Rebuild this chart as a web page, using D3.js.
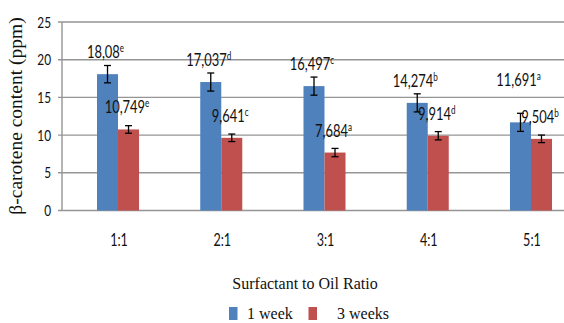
<!DOCTYPE html>
<html>
<head>
<meta charset="utf-8">
<script src="https://cdn.jsdelivr.net/npm/d3@7"></script>
<style>
  html, body { margin: 0; padding: 0; background: #fff; overflow: hidden; }
  svg { display: block; }
  .serif { font-family: "Liberation Serif", "DejaVu Serif", serif; }
  .sans { font-family: Lato, "Liberation Sans", sans-serif; }
</style>
</head>
<body>
<svg id="chart" width="564" height="323"></svg>
<script>
// Surfactant-to-oil ratios along the x axis
const categories = ["1:1", "2:1", "3:1", "4:1", "5:1"];
const seriesNames = ["1 week", "3 weeks"];

// β-carotene content (ppm) after storage
const week1 = [18.08, 17.037, 16.497, 14.274, 11.691];
const week3 = [10.749, 9.641, 7.684, 9.914, 9.504];

// standard deviations shown as error bars
const week1Err = [1.15, 1.2, 1.2, 1.2, 1.2];
const week3Err = [0.5, 0.5, 0.55, 0.55, 0.5];

// significance letters attached to each value label
const week1Letters = ["e", "d", "c", "b", "a"];
const week3Letters = ["e", "c", "a", "d", "b"];

const yTicks = [0, 5, 10, 15, 20, 25];

const colors = { "1 week": "#4F81BD", "3 weeks": "#C0504D" };
const narrow = 0.74;
const ink = "#111";

const svg = d3.select("#chart");

const y = d3.scaleLinear().domain([0, 25]).range([210.5, 22]);
const x0 = d3.scaleBand().domain(categories).range([66.4, 582.6]).paddingInner(0).paddingOuter(0);
const x1 = d3.scaleBand().domain(seriesNames).range([0, x0.bandwidth()]).paddingInner(0).paddingOuter(1.457);

const plotLeft = 62, plotRight = 600;

// horizontal gridlines with short ticks left of the axis
const grid = svg.append("g");
grid.selectAll("line.grid").data(yTicks).join("line")
  .attr("x1", plotLeft - 4).attr("x2", plotRight)
  .attr("y1", d => y(d)).attr("y2", d => y(d))
  .attr("stroke", "#959595").attr("stroke-width", 1.4);
grid.append("line")
  .attr("x1", plotLeft).attr("x2", plotLeft)
  .attr("y1", y(25)).attr("y2", y(0))
  .attr("stroke", "#959595").attr("stroke-width", 1.4);

// condensed-looking text: squeeze horizontally around the anchor point
function narrowText(parent, tx, ty, anchor, size) {
  return parent.append("g")
    .attr("transform", `translate(${tx},${ty}) scale(${narrow},1)`)
    .append("text")
    .attr("class", "sans")
    .attr("text-anchor", anchor)
    .attr("font-size", size)
    .attr("fill", ink);
}

// y tick labels
const yAxisG = svg.append("g");
yTicks.forEach(t => {
  narrowText(yAxisG, 51, y(t) + 5.5, "end", 16).text(t);
});

// x category labels
const xAxisG = svg.append("g");
categories.forEach(c => {
  narrowText(xAxisG, x0(c) + x0.bandwidth() / 2 + 1, 246, "middle", 17).text(c);
});

// bars
const rows = categories.map((c, i) => ({
  cat: c,
  items: [
    { s: "1 week", v: week1[i], e: week1Err[i], letter: week1Letters[i] },
    { s: "3 weeks", v: week3[i], e: week3Err[i], letter: week3Letters[i] }
  ]
}));

const groups = svg.append("g").selectAll("g").data(rows).join("g")
  .attr("transform", d => `translate(${x0(d.cat)},0)`);

groups.selectAll("rect").data(d => d.items).join("rect")
  .attr("x", d => x1(d.s))
  .attr("y", d => y(d.v))
  .attr("width", x1.bandwidth())
  .attr("height", d => y(0) - y(d.v))
  .attr("fill", d => colors[d.s]);

// error bars
const capHalf = 3.5;
groups.each(function (d) {
  const g = d3.select(this);
  d.items.forEach(it => {
    const cx = x1(it.s) + x1.bandwidth() / 2;
    const top = y(it.v + it.e), bot = y(it.v - it.e);
    g.append("line").attr("x1", cx).attr("x2", cx).attr("y1", top).attr("y2", bot)
      .attr("stroke", "#000").attr("stroke-width", 1.3);
    [top, bot].forEach(yy => g.append("line")
      .attr("x1", cx - capHalf).attr("x2", cx + capHalf).attr("y1", yy).attr("y2", yy)
      .attr("stroke", "#000").attr("stroke-width", 1.3));
  });
});

// value labels (comma decimal) with superscript letters
const labelLift = { "5:1|1 week": 20 };
const fmt = v => String(v).replace(".", ",");
const labelsG = svg.append("g");
rows.forEach(r => {
  r.items.forEach(it => {
    const cx = x0(r.cat) + x1(it.s) + x1.bandwidth() / 2 + (it.s === "1 week" ? -2 : -1.5);
    const lift = labelLift[r.cat + "|" + it.s] || 0;
    const t = narrowText(labelsG, cx, y(it.v) - 16 - lift, "middle", 17.5);
    t.append("tspan").text(fmt(it.v));
    t.append("tspan").attr("font-size", 11).attr("dy", -6).text(it.letter);
  });
});

// axis titles
svg.append("text")
  .attr("class", "serif")
  .attr("transform", `translate(22,116) rotate(-90)`)
  .attr("text-anchor", "middle")
  .attr("font-size", 19.5)
  .attr("fill", ink)
  .text("β-carotene content (ppm)");

svg.append("text")
  .attr("class", "serif")
  .attr("x", 305).attr("y", 289)
  .attr("text-anchor", "middle")
  .attr("font-size", 16)
  .attr("fill", ink)
  .text("Surfactant to Oil Ratio");

// legend
const legend = svg.append("g");
const legendItems = [
  { s: "1 week", rx: 229, tx: 247 },
  { s: "3 weeks", rx: 308.5, tx: 337 }
];
legendItems.forEach(li => {
  legend.append("rect").attr("x", li.rx).attr("y", 307).attr("width", 8.5).attr("height", 13)
    .attr("fill", colors[li.s]);
  legend.append("text").attr("class", "serif").attr("x", li.tx).attr("y", 318.5)
    .attr("font-size", 16).attr("fill", ink)
    .text(li.s);
});
</script>
</body>
</html>
